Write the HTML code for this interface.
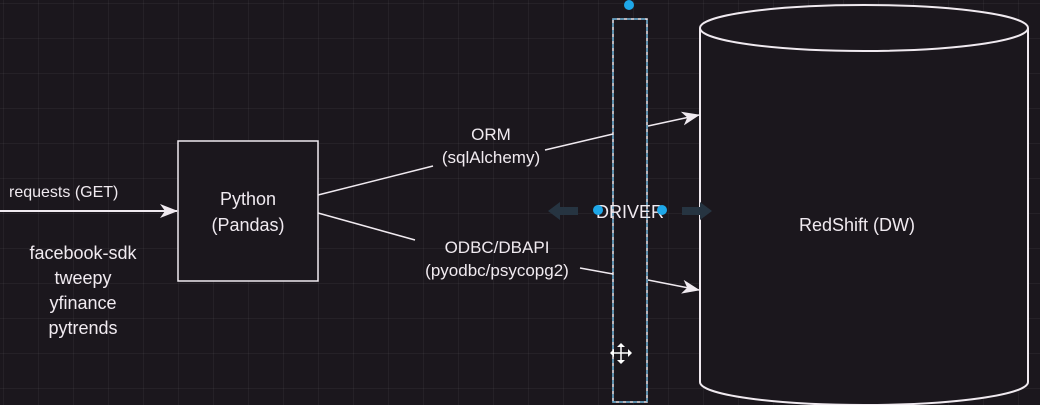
<!DOCTYPE html>
<html><head><style>
html,body{margin:0;padding:0;background:#1b171d;}
body{width:1040px;height:405px;overflow:hidden;position:relative;font-family:"Liberation Sans",Arial,sans-serif;
background-color:#1b171d;
background-image:linear-gradient(rgba(255,255,255,0.045) 1px,transparent 1px),linear-gradient(90deg,rgba(255,255,255,0.045) 1px,transparent 1px);
background-size:35px 35px;background-position:3px 3px;}
</style></head><body>
<svg width="1040" height="405" style="position:absolute;left:0;top:0" font-family="Liberation Sans, Arial, sans-serif">
<defs><marker id="a" markerWidth="18" markerHeight="14" refX="17" refY="7" orient="auto" markerUnits="userSpaceOnUse"><path d="M0,0 L18,7 L0,14 L5,7 Z" fill="#f0eaf0"/></marker></defs>
<path d="M700,28 L700,382 A164,23 0 0 0 1028,382 L1028,28" fill="#1b171d" stroke="#f0eaf0" stroke-width="2"/>
<ellipse cx="864" cy="28" rx="164" ry="23" fill="#1b171d" stroke="#f0eaf0" stroke-width="2"/>
<text x="857" y="231" fill="#f0eaf0" font-size="18" text-anchor="middle">RedShift (DW)</text>
<rect x="178" y="141" width="140" height="140" fill="#1b171d" stroke="#f0eaf0" stroke-width="1.5"/>
<text x="248" y="205" fill="#f0eaf0" font-size="18" text-anchor="middle">Python</text>
<text x="248" y="231" fill="#f0eaf0" font-size="18" text-anchor="middle">(Pandas)</text>
<line x1="0" y1="211" x2="177" y2="211" stroke="#f0eaf0" stroke-width="2" marker-end="url(#a)"/>
<text x="9" y="197" fill="#f0eaf0" font-size="16">requests (GET)</text>
<g fill="#f0eaf0" font-size="18" text-anchor="middle">
<text x="83" y="259">facebook-sdk</text><text x="83" y="284">tweepy</text><text x="83" y="309">yfinance</text><text x="83" y="334">pytrends</text>
</g>
<g stroke="#f0eaf0" stroke-width="1.5" fill="none">
<line x1="318" y1="195" x2="433" y2="166"/>
<line x1="545" y1="150" x2="613" y2="134"/>
<line x1="648" y1="126" x2="699" y2="115" marker-end="url(#a)"/>
<line x1="318" y1="213" x2="415" y2="240"/>
<line x1="580" y1="268" x2="613" y2="274"/>
<line x1="648" y1="280" x2="699" y2="290" marker-end="url(#a)"/>
</g>
<g fill="#f0eaf0" font-size="17" text-anchor="middle">
<text x="491" y="140">ORM</text><text x="491" y="163">(sqlAlchemy)</text>
<text x="497" y="253">ODBC/DBAPI</text><text x="497" y="276">(pyodbc/psycopg2)</text>
</g>
<rect x="613" y="19" width="34" height="383" fill="#1b171d" stroke="#f0eaf0" stroke-width="1.5"/>
<rect x="613" y="19" width="34" height="383" fill="none" stroke="#3aa3d8" stroke-width="1" stroke-dasharray="4,3"/>
<path d="M548,211 L560,202 L560,207 L578,207 L578,215 L560,215 L560,220 Z" fill="#263441"/>
<path d="M712,211 L700,202 L700,207 L682,207 L682,215 L700,215 L700,220 Z" fill="#263441"/>
<text x="630" y="218" fill="#f0eaf0" font-size="18" text-anchor="middle">DRIVER</text>
<circle cx="598" cy="210" r="5" fill="#1ea7e8"/>
<circle cx="662" cy="210" r="5" fill="#1ea7e8"/>
<circle cx="629" cy="5" r="5" fill="#1ea7e8"/>
<g stroke="#fff" stroke-width="1.5"><line x1="621" y1="344" x2="621" y2="363"/><line x1="611" y1="353" x2="631" y2="353"/></g>
<g fill="#fff"><path d="M621,343 L617,347 L625,347Z"/><path d="M621,364 L617,360 L625,360Z"/><path d="M610,353 L614,349 L614,357Z"/><path d="M632,353 L628,349 L628,357Z"/></g>
</svg>
</body></html>
